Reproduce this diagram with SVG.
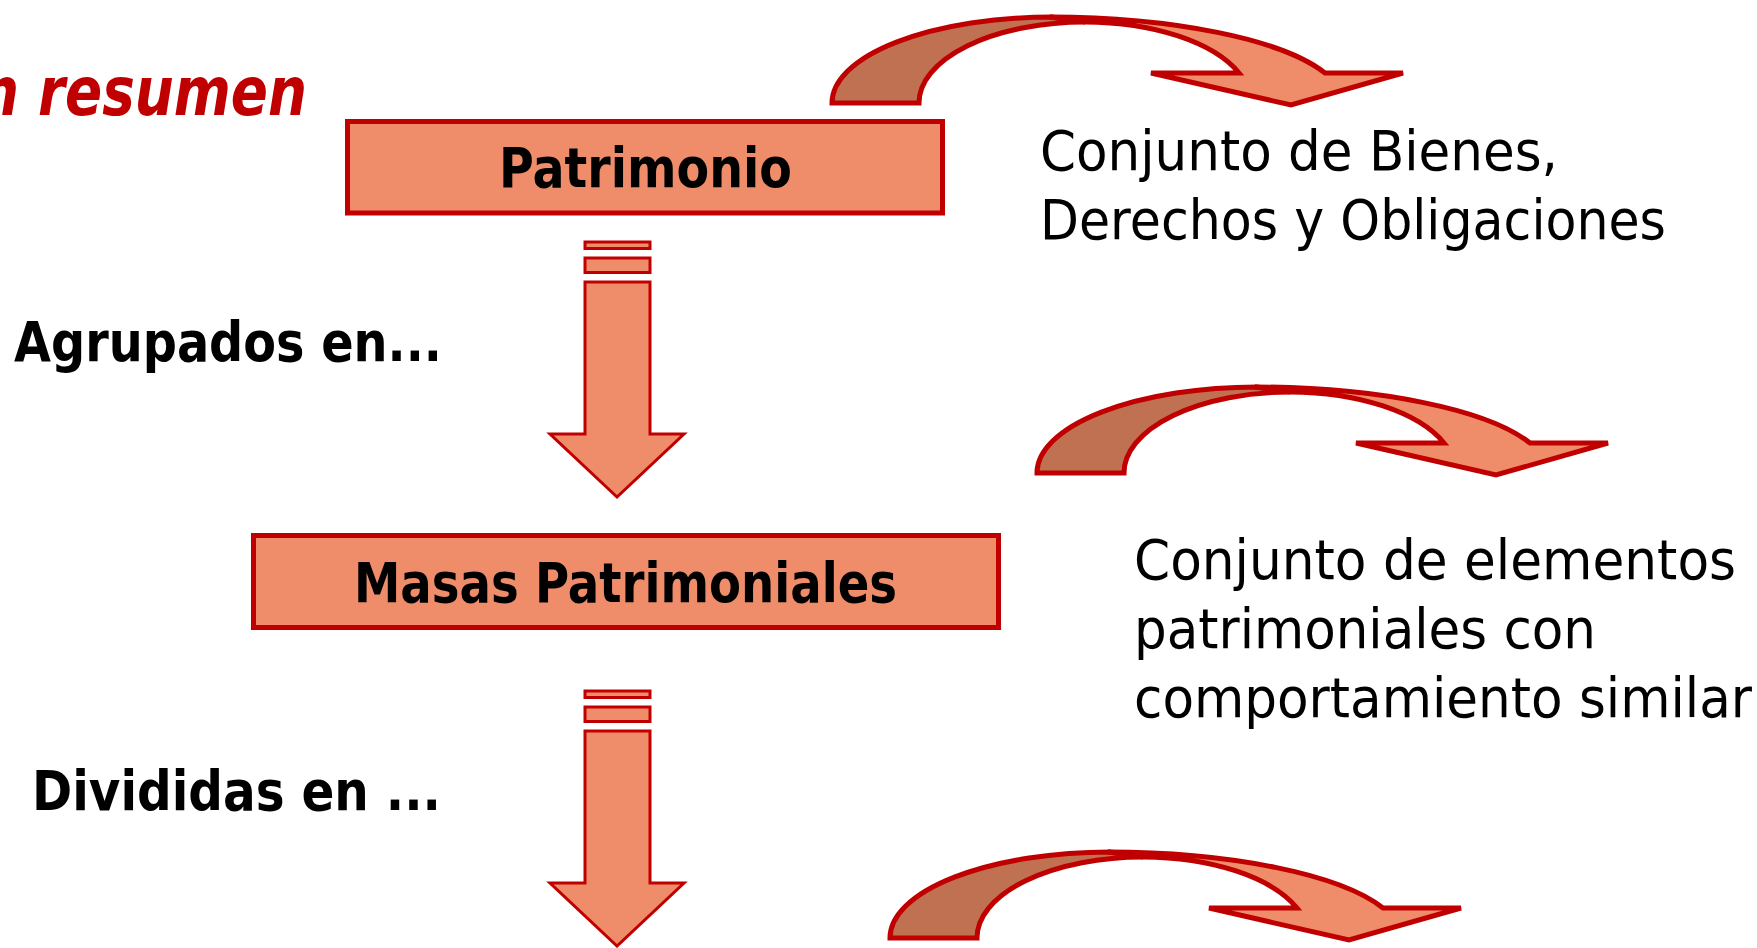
<svg xmlns="http://www.w3.org/2000/svg" xmlns:xlink="http://www.w3.org/1999/xlink" width="1757" height="948" viewBox="0 0 1757 948">
<style>
.box{fill:#EF8D6B;stroke:#C00000;stroke-width:5}
.arr{fill:#EF8D6B;stroke:#C00000;stroke-width:3;stroke-linejoin:miter}
.dark{fill:#C07152;stroke:#C00000;stroke-width:5;stroke-linejoin:miter}
.light{fill:#EF8D6B;stroke:#C00000;stroke-width:5;stroke-linejoin:miter}
.b{font-family:"DejaVu Sans","Liberation Sans",sans-serif;font-weight:bold;font-size:56px;fill:#000}
.r{font-family:"DejaVu Sans","Liberation Sans",sans-serif;font-size:56px;fill:#000}
.t{font-family:"DejaVu Sans","Liberation Sans",sans-serif;font-weight:bold;font-style:italic;font-size:68px;fill:#C00000}
</style>
<defs>
<g id="curve">
<path class="dark" d="M1037,473 A220,86 0 0 1 1257,387 L1290,392 A166,81 0 0 0 1124,473 Z"/>
<path class="light" d="M1255,387 A294,86 0 0 1 1530,443 L1608,443 L1496,475 L1356,443 L1444,443 A166,81 0 0 0 1290,392 Z"/>
</g>
<g id="down">
<rect class="arr" x="585" y="242" width="65" height="6.5"/>
<rect class="arr" x="585" y="258" width="65" height="14.5"/>
<path class="arr" d="M585,282 L650,282 L650,434 L684,434 L617,497 L550,434 L585,434 Z"/>
</g>
</defs>
<g id="title">
<text class="t" x="-20" y="115" textLength="327" lengthAdjust="spacingAndGlyphs">n resumen</text>
</g>
<g id="connectors">
<use href="#curve" xlink:href="#curve" transform="translate(-205,-370)"/>
<use href="#curve" xlink:href="#curve"/>
<use href="#curve" xlink:href="#curve" transform="translate(-147,465)"/>
<use href="#down" xlink:href="#down"/>
<use href="#down" xlink:href="#down" transform="translate(0,449)"/>
</g>
<g id="patrimonio">
<rect class="box" x="347.5" y="121.5" width="595" height="91.5"/>
<text class="b" x="499" y="187" textLength="293" lengthAdjust="spacingAndGlyphs">Patrimonio</text>
</g>
<g id="masas">
<rect class="box" x="253.5" y="535.5" width="745" height="92"/>
<text class="b" x="354" y="602" textLength="543" lengthAdjust="spacingAndGlyphs">Masas Patrimoniales</text>
</g>
<g id="agrupados">
<text class="b" x="14" y="361" textLength="428" lengthAdjust="spacingAndGlyphs">Agrupados en...</text>
</g>
<g id="divididas">
<text class="b" x="32" y="810" textLength="409" lengthAdjust="spacingAndGlyphs">Divididas en ...</text>
</g>
<g id="def-patrimonio">
<text class="r" x="1040" y="170" textLength="518" lengthAdjust="spacingAndGlyphs">Conjunto de Bienes,</text>
<text class="r" x="1040" y="239" textLength="626" lengthAdjust="spacingAndGlyphs">Derechos y Obligaciones</text>
</g>
<g id="def-masas">
<text class="r" x="1134" y="579" textLength="602" lengthAdjust="spacingAndGlyphs">Conjunto de elementos</text>
<text class="r" x="1134" y="648" textLength="462" lengthAdjust="spacingAndGlyphs">patrimoniales con</text>
<text class="r" x="1134" y="717" textLength="618" lengthAdjust="spacingAndGlyphs">comportamiento similar</text>
</g>
</svg>
